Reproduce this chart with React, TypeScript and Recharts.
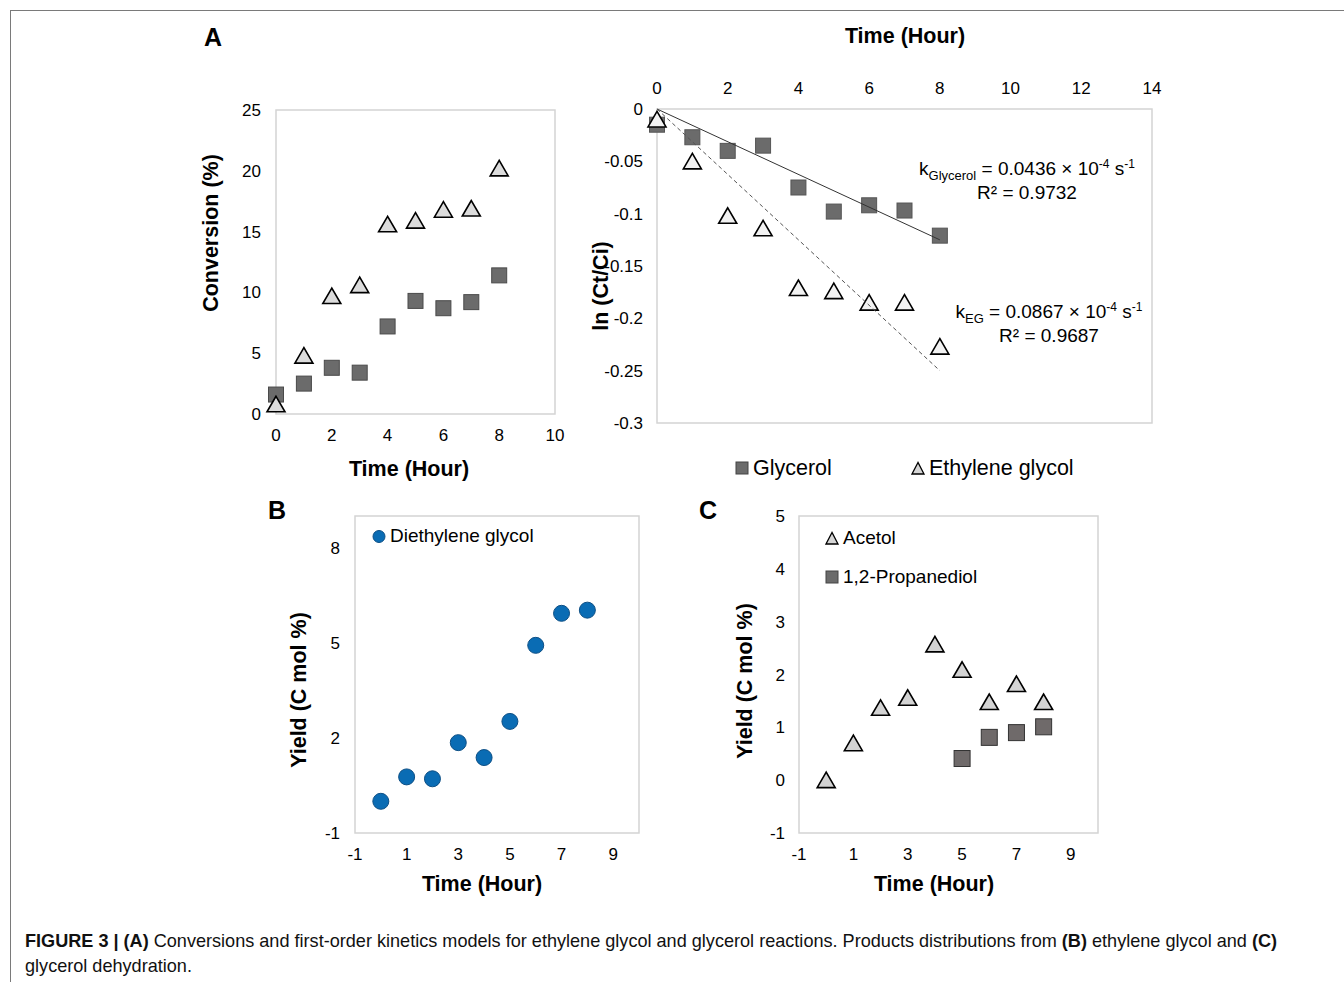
import React from 'react';
import { ScatterChart, Scatter, XAxis, YAxis, ReferenceArea } from 'recharts';

// hours sampled
const hours = [0, 1, 2, 3, 4, 5, 6, 7, 8];

// A (left): conversion %
const convGlycerol = [1.6, 2.5, 3.8, 3.4, 7.2, 9.3, 8.7, 9.2, 11.4];
const convEG = [0.8, 4.8, 9.7, 10.6, 15.6, 15.9, 16.8, 16.9, 20.2];

// A (right): ln(Ct/Ci) and fitted lines
const lnGlycerol = [-0.015, -0.027, -0.04, -0.035, -0.075, -0.098, -0.092, -0.097, -0.121];
const lnEG = [-0.01, -0.05, -0.102, -0.114, -0.171, -0.174, -0.185, -0.185, -0.227];
const fitHours = [0, 8];
const fitGlycerol = [0, -0.125];
const fitEG = [0, -0.25];

// B: diethylene glycol yield
const yieldDEG = [0.0, 0.77, 0.71, 1.85, 1.38, 2.52, 4.92, 5.93, 6.03];

// C: acetol + 1,2-propanediol yield
const yieldAcetol = [0.0, 0.7, 1.37, 1.56, 2.57, 2.09, 1.48, 1.82, 1.48];
const pdHours = [5, 6, 7, 8];
const yieldPD = [0.41, 0.81, 0.9, 1.01];

// tick labels
const convXTicks = [0, 2, 4, 6, 8, 10];
const convYTicks = [0, 5, 10, 15, 20, 25];
const lnXTicks = [0, 2, 4, 6, 8, 10, 12, 14];
const lnYTicks = [0, -0.05, -0.1, -0.15, -0.2, -0.25, -0.3];
const yieldXTicks = [-1, 1, 3, 5, 7, 9];
const degYTicks = [-1, 2, 5, 8];
const acetolYTicks = [-1, 0, 1, 2, 3, 4, 5];

const toPts = (xs: number[], ys: number[]) => xs.map((x, i) => ({ x, y: ys[i] }));

const FONT = '"Liberation Sans", Arial, Helvetica, sans-serif';
const tickStyle = { fill: '#000', fontSize: 17, fontFamily: FONT };
const BOX = '#d4d4d4';

const Square = (fill: string, stroke: string, s = 15) => (p: any) => (
  <rect x={p.cx - s / 2} y={p.cy - s / 2} width={s} height={s} fill={fill} stroke={stroke} strokeWidth={1} />
);

const Triangle = (fill: string) => (p: any) => (
  <polygon
    points={`${p.cx},${p.cy - 8} ${p.cx - 9},${p.cy + 7.5} ${p.cx + 9},${p.cy + 7.5}`}
    fill={fill}
    stroke="#000"
    strokeWidth={1.6}
    strokeLinejoin="miter"
  />
);

const Dot = (p: any) => <circle cx={p.cx} cy={p.cy} r={8} fill="#0a6cb4" stroke="#0d4f85" strokeWidth={1} />;
const Nothing = () => <g />;

const abs = (left: number, top: number): React.CSSProperties => ({ position: 'absolute', left, top });

const AxisTitle = ({ x, y, text, vertical }: { x: number; y: number; text: string; vertical?: boolean }) => (
  <div
    style={{
      position: 'absolute',
      left: x,
      top: y,
      transform: `translate(-50%, -50%)${vertical ? ' rotate(-90deg)' : ''}`,
      whiteSpace: 'nowrap',
      fontWeight: 'bold',
      fontSize: 21.5,
      lineHeight: '24px',
    }}
  >
    {text}
  </div>
);

const LegendItem = ({ x, y, icon, text, size }: { x: number; y: number; icon: 'sq' | 'tri' | 'dot'; text: string; size: number }) => (
  <div style={{ position: 'absolute', left: x, top: y - 12, height: 24, display: 'flex', alignItems: 'center', whiteSpace: 'nowrap', fontSize: size }}>
    <svg width={15} height={15} style={{ marginRight: 3 }}>
      {icon === 'sq' && <rect x={1} y={1} width={12} height={12} fill="#6b6b6b" stroke="#444" />}
      {icon === 'tri' && <polygon points="7,1.5 1,13 13,13" fill="#d6d6d6" stroke="#000" strokeWidth={1.3} />}
      {icon === 'dot' && <circle cx={7} cy={7.5} r={6} fill="#0a6cb4" stroke="#0d4f85" />}
    </svg>
    {text}
  </div>
);

const sub: React.CSSProperties = { fontSize: 13, position: 'relative', top: 5 };
const sup: React.CSSProperties = { fontSize: 12, position: 'relative', top: -7 };

export default function App() {
  return (
    <div style={{ position: 'absolute', left: 0, top: 0, width: 1344, height: 982, background: '#fff', fontFamily: FONT, color: '#000', overflow: 'hidden' }}>
      {/* frame */}
      <div style={{ position: 'absolute', left: 10, top: 10, width: 1340, height: 980, borderTop: '1.5px solid #7a7a7a', borderLeft: '1.5px solid #7a7a7a' }} />

      {/* panel letters */}
      <div style={{ ...abs(204, 23), fontSize: 25, fontWeight: 'bold' }}>A</div>
      <div style={{ ...abs(268, 496), fontSize: 25, fontWeight: 'bold' }}>B</div>
      <div style={{ ...abs(699, 496), fontSize: 25, fontWeight: 'bold' }}>C</div>

      {/* A left: conversion */}
      <div style={abs(190, 90)}>
        <ScatterChart width={390} height={400} margin={{ top: 20, right: 25, left: 26, bottom: 46 }}>
          <XAxis type="number" dataKey="x" domain={[0, 10]} ticks={convXTicks} interval={0} height={30} axisLine={false} tickLine={false} tickMargin={9} tick={tickStyle} />
          <YAxis type="number" dataKey="y" domain={[0, 25]} ticks={convYTicks} interval={0} width={60} axisLine={false} tickLine={false} tickMargin={9} tick={tickStyle} />
          <ReferenceArea x1={0} x2={10} y1={0} y2={25} fill="none" stroke={BOX} strokeWidth={1.5} />
          <Scatter data={toPts(hours, convGlycerol)} shape={Square('#6b6b6b', '#4a4a4a')} isAnimationActive={false} />
          <Scatter data={toPts(hours, convEG)} shape={Triangle('#dcdcdc')} isAnimationActive={false} />
        </ScatterChart>
      </div>
      <AxisTitle x={211} y={233} text="Conversion (%)" vertical />
      <AxisTitle x={409} y={469} text="Time (Hour)" />

      {/* A right: first-order kinetics */}
      <div style={abs(590, 60)}>
        <ScatterChart width={580} height={380} margin={{ top: 19, right: 18, left: 7, bottom: 17 }}>
          <XAxis orientation="top" type="number" dataKey="x" domain={[0, 14]} ticks={lnXTicks} interval={0} height={30} axisLine={false} tickLine={false} tickMargin={9} tick={tickStyle} />
          <YAxis type="number" dataKey="y" domain={[-0.3, 0]} ticks={lnYTicks} interval={0} width={60} axisLine={false} tickLine={false} tickMargin={8} tick={tickStyle} />
          <ReferenceArea x1={0} x2={14} y1={-0.3} y2={0} fill="none" stroke={BOX} strokeWidth={1.5} />
          <Scatter data={toPts(hours, lnGlycerol)} shape={Square('#6b6b6b', '#555')} isAnimationActive={false} />
          <Scatter data={toPts(hours, lnEG)} shape={Triangle('#f2f2f2')} isAnimationActive={false} />
          <Scatter data={toPts(fitHours, fitGlycerol)} line={{ stroke: '#333', strokeWidth: 1 }} shape={Nothing} isAnimationActive={false} />
          <Scatter data={toPts(fitHours, fitEG)} line={{ stroke: '#555', strokeWidth: 1, strokeDasharray: '4 3' }} shape={Nothing} isAnimationActive={false} />
        </ScatterChart>
      </div>
      <AxisTitle x={905} y={36} text="Time (Hour)" />
      <AxisTitle x={601} y={286} text="ln (Ct/Ci)" vertical />

      <div style={{ position: 'absolute', left: 877, top: 158, width: 300, textAlign: 'center', fontSize: 19, lineHeight: '22px' }}>
        <div>
          k<span style={sub}>Glycerol</span> = 0.0436 × 10<span style={sup}>-4</span> s<span style={sup}>-1</span>
        </div>
        <div>R² = 0.9732</div>
      </div>
      <div style={{ position: 'absolute', left: 899, top: 301, width: 300, textAlign: 'center', fontSize: 19, lineHeight: '22px' }}>
        <div>
          k<span style={sub}>EG</span> = 0.0867 × 10<span style={sup}>-4</span> s<span style={sup}>-1</span>
        </div>
        <div>R² = 0.9687</div>
      </div>

      <LegendItem x={735} y={468} icon="sq" text="Glycerol" size={21.5} />
      <LegendItem x={911} y={468} icon="tri" text="Ethylene glycol" size={21.5} />

      {/* B: diethylene glycol */}
      <div style={abs(280, 500)}>
        <ScatterChart width={380} height={380} margin={{ top: 16, right: 21, left: 20, bottom: 17 }}>
          <XAxis type="number" dataKey="x" domain={[-1, 10]} ticks={yieldXTicks} interval={0} height={30} axisLine={false} tickLine={false} tickMargin={9} tick={tickStyle} />
          <YAxis type="number" dataKey="y" domain={[-1, 9]} ticks={degYTicks} interval={0} width={55} axisLine={false} tickLine={false} tickMargin={9} tick={tickStyle} />
          <ReferenceArea x1={-1} x2={10} y1={-1} y2={9} fill="none" stroke={BOX} strokeWidth={1.5} />
          <Scatter data={toPts(hours, yieldDEG)} shape={Dot} isAnimationActive={false} />
        </ScatterChart>
      </div>
      <LegendItem x={372} y={536} icon="dot" text="Diethylene glycol" size={19} />
      <AxisTitle x={299} y={690} text="Yield (C mol %)" vertical />
      <AxisTitle x={482} y={884} text="Time (Hour)" />

      {/* C: glycerol dehydration products */}
      <div style={abs(720, 500)}>
        <ScatterChart width={400} height={380} margin={{ top: 16, right: 22, left: 24, bottom: 17 }}>
          <XAxis type="number" dataKey="x" domain={[-1, 10]} ticks={yieldXTicks} interval={0} height={30} axisLine={false} tickLine={false} tickMargin={9} tick={tickStyle} />
          <YAxis type="number" dataKey="y" domain={[-1, 5]} ticks={acetolYTicks} interval={0} width={55} axisLine={false} tickLine={false} tickMargin={8} tick={tickStyle} />
          <ReferenceArea x1={-1} x2={10} y1={-1} y2={5} fill="none" stroke={BOX} strokeWidth={1.5} />
          <Scatter data={toPts(hours, yieldAcetol)} shape={Triangle('#d3d3d3')} isAnimationActive={false} />
          <Scatter data={toPts(pdHours, yieldPD)} shape={Square('#6f6a6a', '#333', 16)} isAnimationActive={false} />
        </ScatterChart>
      </div>
      <LegendItem x={825} y={538} icon="tri" text="Acetol" size={19} />
      <LegendItem x={825} y={577} icon="sq" text="1,2-Propanediol" size={19} />
      <AxisTitle x={745} y={681} text="Yield (C mol %)" vertical />
      <AxisTitle x={934} y={884} text="Time (Hour)" />

      {/* caption */}
      <div style={{ position: 'absolute', left: 25, top: 929, fontSize: 18.1, lineHeight: '25px', whiteSpace: 'nowrap', color: '#111' }}>
        <b>FIGURE 3 | (A)</b> Conversions and first-order kinetics models for ethylene glycol and glycerol reactions. Products distributions from <b>(B)</b> ethylene glycol and <b>(C)</b>
        <br />
        glycerol dehydration.
      </div>
    </div>
  );
}
